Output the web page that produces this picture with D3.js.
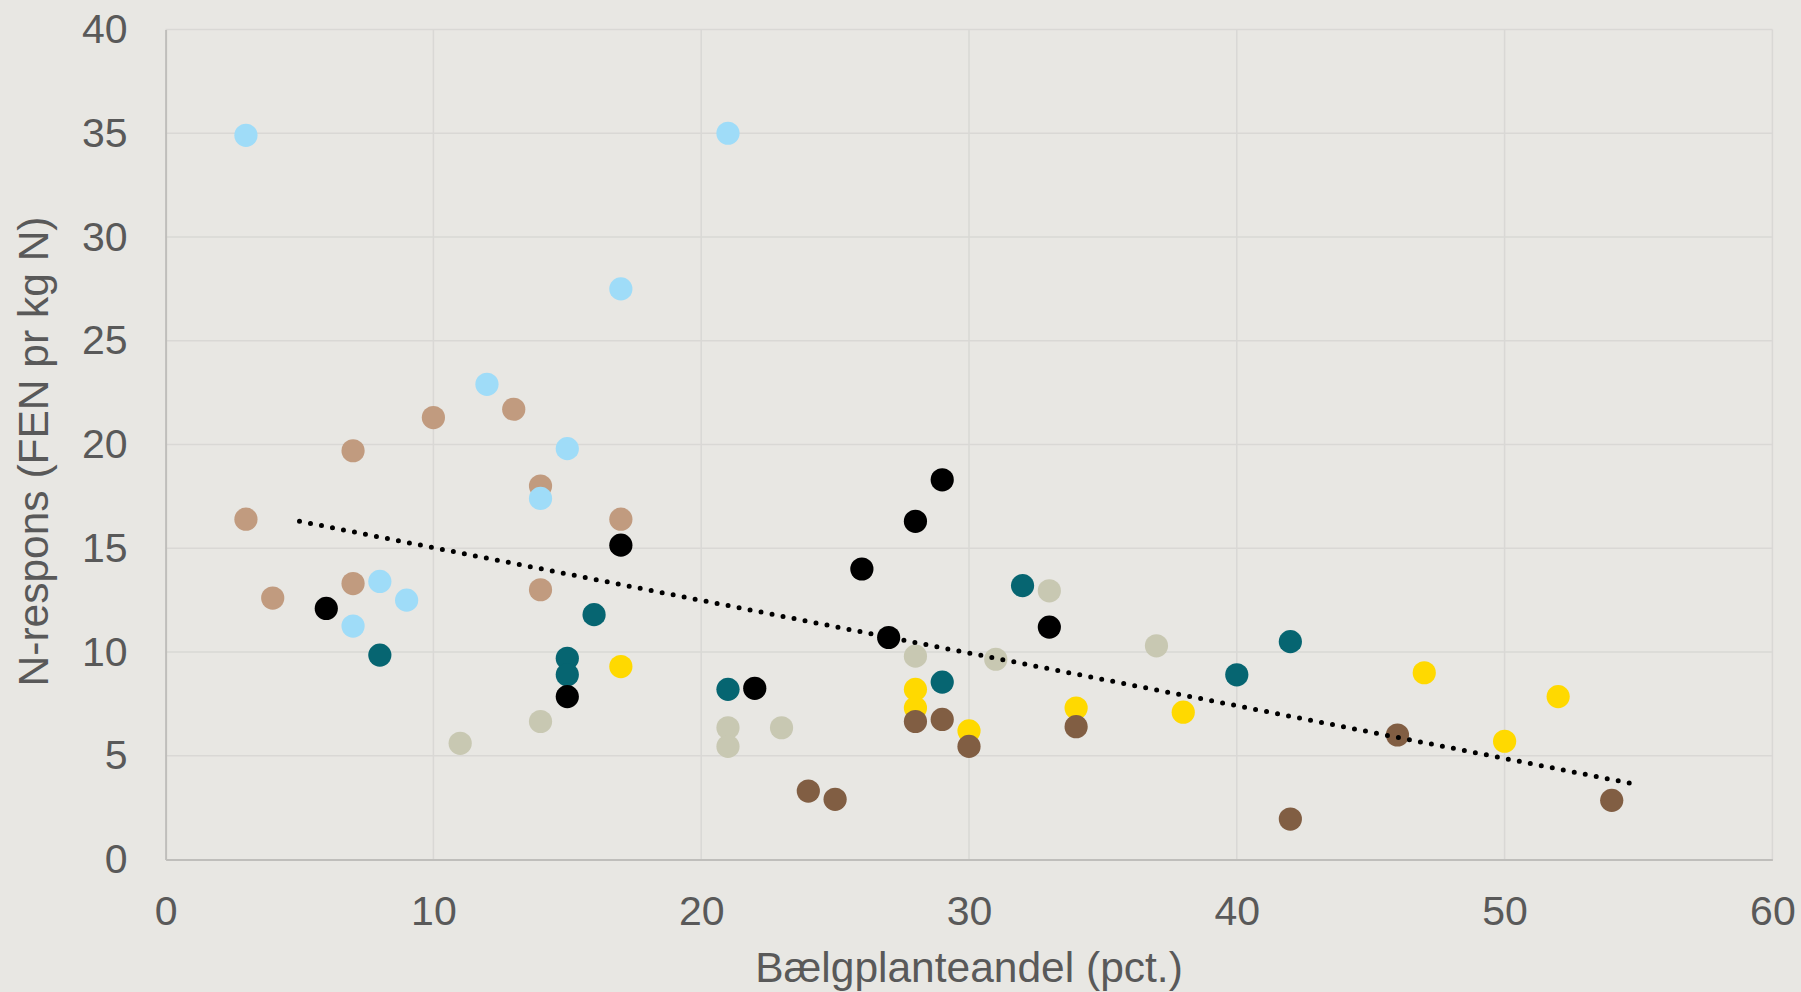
<!DOCTYPE html>
<html><head><meta charset="utf-8">
<script src="https://cdn.jsdelivr.net/npm/d3@7"></script>
<style>
html,body{margin:0;padding:0;background:#e8e7e3;}
svg{display:block;font-family:"Liberation Sans",Arial,sans-serif;}
</style></head>
<body><svg id="chart" width="1801" height="992"></svg>
<script>
// ---- data ----
const xTicks = [0, 10, 20, 30, 40, 50, 60];
const yTicks = [0, 5, 10, 15, 20, 25, 30, 35, 40];
const xTitle = "Bælgplanteandel (pct.)";
const yTitle = "N-respons (FEN pr kg N)";

const tanX   = [3, 4, 7, 7, 10, 13, 14, 14, 17];
const tanY   = [16.4, 12.6, 19.7, 13.3, 21.3, 21.7, 18.0, 13.0, 16.4];
const blueX  = [3, 21, 17, 12, 15, 14, 8, 9, 7];
const blueY  = [34.9, 35.0, 27.5, 22.9, 19.8, 17.4, 13.4, 12.5, 11.25];
const tealX  = [8, 15, 15, 16, 21, 29, 32, 40, 42];
const tealY  = [9.85, 9.7, 8.9, 11.8, 8.2, 8.55, 13.2, 8.9, 10.5];
const blackX = [6, 15, 17, 22, 26, 27, 28, 29, 33];
const blackY = [12.1, 7.85, 15.15, 8.25, 14.0, 10.7, 16.3, 18.3, 11.2];
const sageX  = [11, 14, 21, 21, 23, 28, 31, 33, 37];
const sageY  = [5.6, 6.65, 6.35, 5.45, 6.35, 9.8, 9.65, 12.95, 10.3];
const yellowX = [17, 28, 28, 30, 34, 38, 47, 50, 52];
const yellowY = [9.3, 8.2, 7.3, 6.2, 7.3, 7.1, 9.0, 5.7, 7.85];
const brownX = [24, 25, 28, 29, 30, 34, 42, 46, 54];
const brownY = [3.3, 2.9, 6.65, 6.75, 5.45, 6.4, 1.95, 6.0, 2.85];
const trendX = [5, 55];
const trendY = [16.3, 3.6];

const series = [
  {name: "Serie A", xs: tanX, ys: tanY, color: "#c19b7f"},
  {name: "Serie B", xs: blueX, ys: blueY, color: "#9fdcf8"},
  {name: "Serie C", xs: tealX, ys: tealY, color: "#066571"},
  {name: "Serie D", xs: blackX, ys: blackY, color: "#000000"},
  {name: "Serie E", xs: sageX, ys: sageY, color: "#c8c8b2"},
  {name: "Serie F", xs: yellowX, ys: yellowY, color: "#ffd900"},
  {name: "Serie G", xs: brownX, ys: brownY, color: "#815e43"}
];

// ---- layout ----
const W = 1801, H = 992;
const m = {left: 165.6, right: 28.6, top: 29.5, bottom: 132.5};
const svg = d3.select("#chart");
svg.append("rect").attr("width", W).attr("height", H).attr("fill", "#e8e7e3");

const x = d3.scaleLinear().domain([0, 60]).range([m.left, W - m.right]);
const y = d3.scaleLinear().domain([0, 40]).range([H - m.bottom, m.top]);

// gridlines
const grid = svg.append("g");
grid.selectAll("line.v").data(xTicks.filter(d => d > 0)).join("line")
  .attr("x1", d => x(d)).attr("x2", d => x(d))
  .attr("y1", y(0)).attr("y2", y(40))
  .attr("stroke", "#d9d8d5").attr("stroke-width", 1.5);
grid.selectAll("line.h").data(yTicks.filter(d => d > 0)).join("line")
  .attr("x1", x(0)).attr("x2", x(60))
  .attr("y1", d => y(d)).attr("y2", d => y(d))
  .attr("stroke", "#d9d8d5").attr("stroke-width", 1.5);

// axes
const xAxis = svg.append("g").attr("transform", `translate(0,${y(0)})`)
  .call(d3.axisBottom(x).tickValues(xTicks).tickSize(0).tickPadding(36).tickFormat(d3.format("d")));
const yAxis = svg.append("g").attr("transform", `translate(${x(0)},0)`)
  .call(d3.axisLeft(y).tickValues(yTicks).tickSize(0).tickPadding(38).tickFormat(d3.format("d")));
[xAxis, yAxis].forEach(a => {
  a.select(".domain").attr("stroke", "#bfbebb").attr("stroke-width", 2);
  a.selectAll("text").attr("fill", "#595959").attr("font-size", 41)
   .attr("font-family", "Liberation Sans, Arial, sans-serif");
});
xAxis.selectAll("text").attr("dy", "0.71em");

// points
series.forEach(s => {
  const pts = s.xs.map((v, i) => ({x: v, y: s.ys[i]}));
  svg.append("g").selectAll("circle").data(pts).join("circle")
    .attr("cx", d => x(d.x)).attr("cy", d => y(d.y))
    .attr("r", 11.6).attr("fill", s.color);
});

// trend line
const trend = trendX.map((v, i) => ({x: v, y: trendY[i]}));
svg.append("path").datum(trend)
  .attr("d", d3.line().x(d => x(d.x)).y(d => y(d.y)))
  .attr("fill", "none").attr("stroke", "#000").attr("stroke-width", 5)
  .attr("stroke-linecap", "round").attr("stroke-dasharray", "0 11.2");

// titles
svg.append("text").attr("x", (x(0) + x(60)) / 2).attr("y", 982)
  .attr("text-anchor", "middle").attr("font-size", 42.5).attr("fill", "#595959")
  .text(xTitle);
svg.append("text")
  .attr("transform", `translate(48,${(y(0) + y(40)) / 2 + 7}) rotate(-90)`)
  .attr("text-anchor", "middle").attr("font-size", 42.5).attr("fill", "#595959")
  .text(yTitle);
</script></body></html>
